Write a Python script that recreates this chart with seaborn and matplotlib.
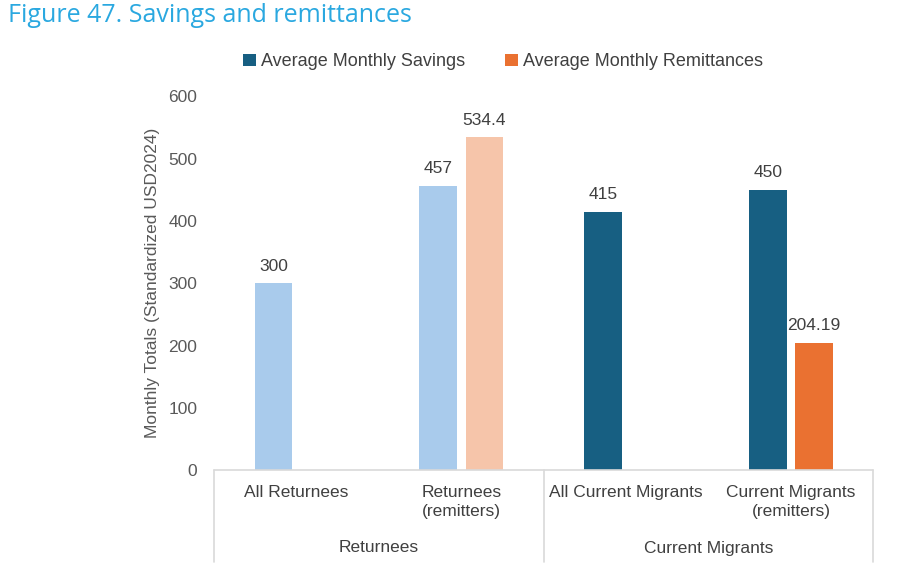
import matplotlib
matplotlib.use("Agg")
import matplotlib.pyplot as plt
import matplotlib.transforms as mtransforms
from matplotlib.patches import Patch
import seaborn as sns
import pandas as pd
import numpy as np

# ---- data ----
categories = ["All Returnees", "Returnees\n(remitters)", "All Current Migrants", "Current Migrants\n(remitters)"]
groups = ["Returnees", "Current Migrants"]
group_of_category = [0, 0, 1, 1]
savings = [300, 457, 415, 450]
remittances = [np.nan, 534.4, np.nan, 204.19]
series = ["Average Monthly Savings", "Average Monthly Remittances"]
y_ticks = [0, 100, 200, 300, 400, 500, 600]

# colours: (savings, remittances) per group
group_colors = {
    0: ("#a9cbec", "#f6c5aa"),
    1: ("#175f82", "#ea7131"),
}
legend_colors = ["#175f82", "#ea7131"]

rows = []
for c, s, r in zip(categories, savings, remittances):
    rows.append({"category": c, "series": series[0], "value": s})
    rows.append({"category": c, "series": series[1], "value": r})
df = pd.DataFrame(rows)

sns.set_theme(style="white")
plt.rcParams["font.family"] = ["Liberation Sans", "DejaVu Sans"]

fig = plt.figure(figsize=(9, 5.7), dpi=100)
ax = fig.add_axes([214 / 900, 1 - 470 / 570, (873.3 - 214) / 900, (470 - 96.5) / 570])

sns.barplot(data=df.dropna(), x="category", y="value", hue="series",
            order=categories, hue_order=series, width=0.56, gap=0.19,
            palette=legend_colors, ax=ax, legend=False, errorbar=None)

# recolour bars per group
for hi, cont in enumerate(ax.containers):
    for bar in cont:
        cx = bar.get_x() + bar.get_width() / 2
        ci = int(round(cx))
        g = group_of_category[ci]
        bar.set_facecolor(group_colors[g][hi])
        bar.set_edgecolor("none")
    ax.bar_label(cont, fmt="%g", padding=7, fontsize=12.5, color="#404040")

ax.set_xlim(-0.5, len(categories) - 0.5)
ax.set_ylim(0, 600)
ax.set_yticks(y_ticks)
ax.tick_params(axis="y", length=0, pad=12, labelsize=12.5, labelcolor="#595959")
ax.set_xticks([])
ax.set_xlabel("")
ax.set_ylabel("")
for sp in ax.spines.values():
    sp.set_visible(False)

# category axis box
trans = mtransforms.blended_transform_factory(ax.transData, ax.transAxes)
line_kw = dict(color="#d9d9d9", lw=1.2, transform=trans, clip_on=False)
ybot = (470 - 562) / (470 - 96.5)
ax.plot([-0.5, len(categories) - 0.5], [0, 0], **line_kw)
for xv in [-0.5, 1.5, 3.5]:
    ax.plot([xv, xv], [0, ybot], **line_kw)

ytop_lbl = (470 - 485) / (470 - 96.5)
for i, c in enumerate(categories):
    ax.text(i, ytop_lbl, c, transform=trans, ha="center", va="top",
            fontsize=12.5, color="#404040", linespacing=1.3)
ygrp = (470 - 548) / (470 - 96.5)
for gi, g in enumerate(groups):
    ax.text(gi * 2 + 0.5, ygrp, g, transform=trans, ha="center", va="center",
            fontsize=12.5, color="#404040")

# y label
fig.text(152 / 900, 1 - 283 / 570, "Monthly Totals (Standardized USD2024)", rotation=90,
         ha="center", va="center", fontsize=12.5, color="#595959")

# title
fig.text(8 / 900, 1 - 15 / 570, "Figure 47. Savings and remittances", ha="left", va="center",
         fontsize=18, color="#2aa8e0", family=["Open Sans", "DejaVu Sans"])

# legend
handles = [Patch(facecolor=col, edgecolor="none") for col in legend_colors]
fig.legend(handles, series, loc="center", bbox_to_anchor=(503 / 900, 1 - 62 / 570),
           ncol=2, frameon=False, fontsize=13, handlelength=0.7, handleheight=0.7,
           handletextpad=0.3, columnspacing=2.2, labelcolor="#404040")

fig.savefig("out.png", dpi=100)
